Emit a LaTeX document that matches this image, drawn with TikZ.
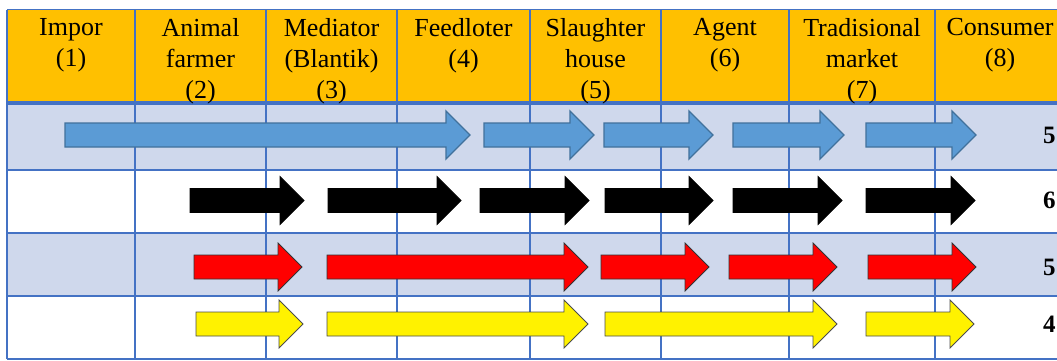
\documentclass[tikz,border=0pt]{standalone}
\usepackage{fontspec}
\setmainfont{Liberation Serif}
\definecolor{hdr}{HTML}{FFC000}
\definecolor{band}{HTML}{CFD8EC}
\definecolor{grid}{HTML}{4472C4}
\definecolor{bluefill}{HTML}{5B9BD5}
\definecolor{blueline}{HTML}{41719C}
\newcommand\blockarr[4]{%
  \draw[#1] (#2,{#4-12}) -- ({#3-24},{#4-12}) -- ({#3-24},{#4-24}) -- (#3,#4)
    -- ({#3-24},{#4+24}) -- ({#3-24},{#4+12}) -- (#2,{#4+12}) -- cycle;}
\begin{document}
\begin{tikzpicture}[x=1pt,y=-1pt,
  hdrtext/.style={anchor=north,inner sep=0pt,align=center,font=\fontsize{26}{31}\selectfont},
  cnt/.style={anchor=west,inner sep=0pt,font=\fontsize{25}{28}\selectfont\bfseries},
  gridline/.style={draw=grid,line width=1.5pt},
  bluearr/.style={fill=bluefill,draw=blueline,line width=1.3pt},
  blackarr/.style={fill=black,draw=black,line width=0.8pt},
  redarr/.style={fill=red,draw=black!80,line width=0.8pt},
  yelarr/.style={fill=yellow,draw=black!70,line width=0.8pt}]
\useasboundingbox (0,0) rectangle (1057,360);
% fills
\fill[hdr] (7,9.5) rectangle (1060,103);
\fill[band] (7,103) rectangle (1060,170);
\fill[band] (7,233) rectangle (1060,296);
% grid
\foreach \x in {7,135,266,397,530,661,789,935}
  \draw[gridline] (\x,9.5) -- (\x,359);
\foreach \y in {9.5,170,233,296,359}
  \draw[gridline] (7,\y) -- (1060,\y);
\draw[draw=grid,line width=3.5pt] (7,103) -- (1060,103);
% header
\node[hdrtext] (h1) at (71,18) {Impor\\(1)};
\node[hdrtext] (h2) at (200.5,18) {Animal\\farmer\\(2)};
\node[hdrtext] (h3) at (331.5,18) {Mediator\\(Blantik)\\(3)};
\node[hdrtext] (h4) at (463.5,18) {Feedloter\\(4)};
\node[hdrtext] (h5) at (595.5,18) {Slaughter\\house\\(5)};
\node[hdrtext] (h6) at (725,18) {Agent\\(6)};
\node[hdrtext] (h7) at (862,18) {Tradisional\\market\\(7)};
\node[hdrtext] (h8) at (1000,18) {Consumer\\(8)};
% row 1 blue
\blockarr{bluearr}{65}{470}{135}
\blockarr{bluearr}{484}{594}{135}
\blockarr{bluearr}{604}{713}{135}
\blockarr{bluearr}{733}{844}{135}
\blockarr{bluearr}{866}{976}{135}
% row 2 black
\blockarr{blackarr}{190}{304}{200.5}
\blockarr{blackarr}{328}{461}{200.5}
\blockarr{blackarr}{480}{589}{200.5}
\blockarr{blackarr}{605}{713}{200.5}
\blockarr{blackarr}{733}{842}{200.5}
\blockarr{blackarr}{866}{975}{200.5}
% row 3 red
\blockarr{redarr}{194}{302}{267}
\blockarr{redarr}{327}{588}{267}
\blockarr{redarr}{601}{709}{267}
\blockarr{redarr}{729}{837}{267}
\blockarr{redarr}{868}{976}{267}
% row 4 yellow
\blockarr{yelarr}{196}{303}{324}
\blockarr{yelarr}{327}{588}{324}
\blockarr{yelarr}{605}{837}{324}
\blockarr{yelarr}{866}{974}{324}
% counts
\node[cnt] (c1) at (1043,135) {5};
\node[cnt] (c2) at (1043,200.5) {6};
\node[cnt] (c3) at (1043,267) {5};
\node[cnt] (c4) at (1043,324) {4};
\end{tikzpicture}
\end{document}
